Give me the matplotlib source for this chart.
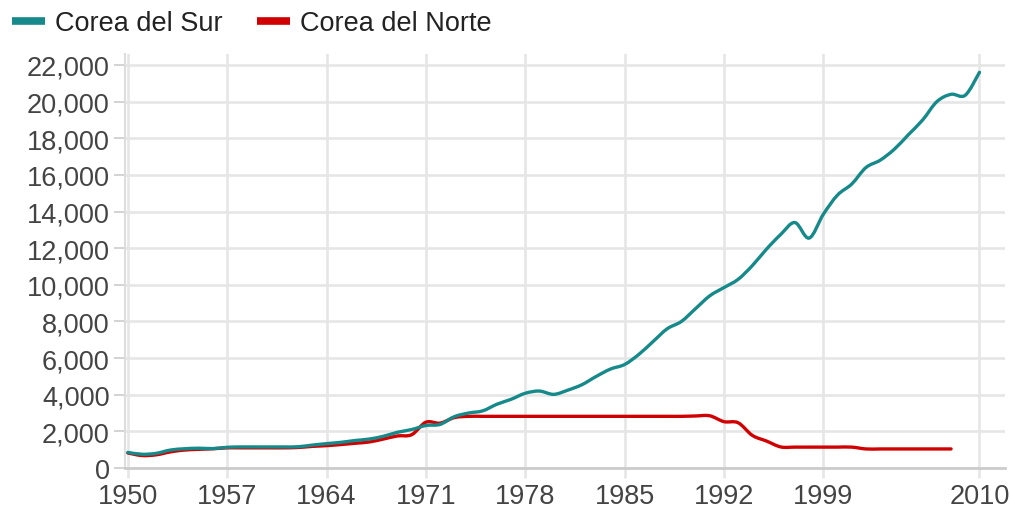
import matplotlib
matplotlib.use("Agg")
import matplotlib.pyplot as plt
from matplotlib.path import Path
from matplotlib.patches import PathPatch
from matplotlib.lines import Line2D
import numpy as np

years_south = list(range(1950, 2011))
south = [850, 750, 800, 980, 1050, 1080, 1060, 1130, 1150, 1150,
         1150, 1150, 1160, 1250, 1330, 1400, 1500, 1580, 1730, 1950,
         2100, 2320, 2380, 2800, 3000, 3120, 3480, 3750, 4080, 4200,
         4020, 4250, 4550, 5000, 5400, 5650, 6200, 6900, 7600, 8000,
         8700, 9400, 9850, 10300, 11050, 11950, 12750, 13400, 12550, 13850,
         14900, 15500, 16400, 16800, 17400, 18200, 19000, 20000, 20400, 20350,
         21600]

years_north = list(range(1950, 2009))
north = [820, 680, 720, 880, 980, 1020, 1050, 1100, 1100, 1100,
         1100, 1100, 1120, 1180, 1220, 1280, 1350, 1420, 1580, 1750,
         1820, 2500, 2450, 2750, 2820, 2820, 2820, 2820, 2820, 2820,
         2820, 2820, 2820, 2820, 2820, 2820, 2820, 2820, 2820, 2820,
         2840, 2850, 2530, 2470, 1780, 1470, 1150, 1140, 1140, 1140,
         1140, 1140, 1040, 1040, 1040, 1040, 1040, 1040, 1040]

series_names = ["Corea del Sur", "Corea del Norte"]
colors = ["#16898a", "#d10000"]

x_ticks = [1950, 1957, 1964, 1971, 1978, 1985, 1992, 1999, 2010]
y_ticks = list(range(0, 22001, 2000))


def smooth_path(xs, ys, t=1.0):
    pts = np.column_stack([np.asarray(xs, float), np.asarray(ys, float)])
    n = len(pts)
    verts = [pts[0]]
    codes = [Path.MOVETO]
    for i in range(n - 1):
        p0 = pts[i - 1] if i > 0 else pts[i]
        p1 = pts[i]
        p2 = pts[i + 1]
        p3 = pts[i + 2] if i + 2 < n else pts[i + 1]
        c1 = p1 + (p2 - p0) / 6.0 * t
        c2 = p2 - (p3 - p1) / 6.0 * t
        verts += [c1, c2, p2]
        codes += [Path.CURVE4] * 3
    return Path(verts, codes)


plt.rcParams['font.family'] = ['Liberation Sans', 'DejaVu Sans']

fig = plt.figure(figsize=(10.1, 5.1), dpi=100)
ax = fig.add_axes([125 / 1010, 41 / 510, 880 / 1010, 414 / 510])

ax.set_xlim(1949.8, 2011.8)
ax.set_ylim(0, 22600)

grid_c = "#e6e6e6"
ax.set_xticks(x_ticks)
ax.set_yticks(y_ticks)
ax.set_yticklabels([f"{v:,}" for v in y_ticks])
ax.grid(True, color=grid_c, linewidth=1.9, zorder=0)
ax.set_axisbelow(True)

for s in ["top", "right"]:
    ax.spines[s].set_visible(False)
ax.spines["left"].set_color("#dddddd")
ax.spines["left"].set_linewidth(1.5)
ax.spines["bottom"].set_color("#cccccc")
ax.spines["bottom"].set_linewidth(2.0)

ax.tick_params(axis="y", length=8, width=1.2, color="#cccccc", pad=3,
               labelsize=19.5, labelcolor="#444444")
ax.tick_params(axis="x", length=7, width=1.9, color=grid_c, pad=4,
               labelsize=19.5, labelcolor="#444444")

for xs, ys, c, z in [(years_north, north, colors[1], 3), (years_south, south, colors[0], 4)]:
    patch = PathPatch(smooth_path(xs, ys), fill=False, edgecolor=c, linewidth=2.4,
                      capstyle="round", joinstyle="round", zorder=z,
                      transform=ax.transData)
    ax.add_patch(patch)

handles = [Line2D([0], [0], color=colors[0], linewidth=5.5, solid_capstyle="butt"),
           Line2D([0], [0], color=colors[1], linewidth=5.5, solid_capstyle="butt")]
fig.legend(handles, series_names, loc="center left",
           bbox_to_anchor=(12 / 1010, 1 - 24 / 510), ncol=2, frameon=False,
           fontsize=19.5, handlelength=1.2, handletextpad=0.37, columnspacing=1.3,
           borderpad=0, borderaxespad=0, labelcolor="#222222")

fig.savefig("out.png", dpi=100)
